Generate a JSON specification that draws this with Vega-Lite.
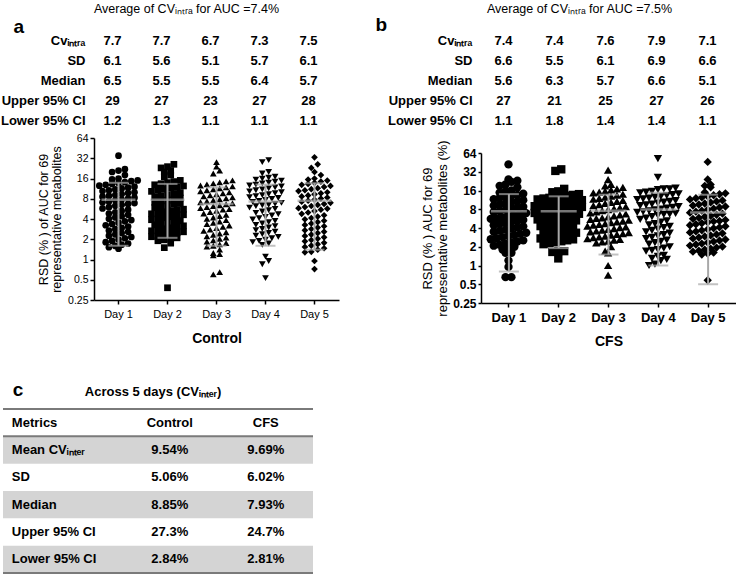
{
"$schema": "https://vega.github.io/schema/vega-lite/v6.json",
"padding": {"left": 0, "top": 2, "right": 0, "bottom": 0},
"config": {
 "view": {"stroke": null},
 "font": "Liberation Sans",
 "axis": {"labelColor": "#000", "titleColor": "#000", "domainColor": "#000", "tickColor": "#000", "grid": false, "labelFont": "Liberation Sans", "titleFont": "Liberation Sans"},
 "title": {"color": "#000", "font": "Liberation Sans"},
 "text": {"color": "#000", "font": "Liberation Sans"}
},
"datasets": {
 "letters": [{"p": "a", "t": "a"}, {"p": "b", "t": "b"}, {"p": "c", "t": "c"}, {"p": "ct", "t": "Across 5 days (CVᵢₙₜₑᵣ)"}],
 "lab": [{"row": "Cv", "t": "Cvᵢₙₜᵣₐ"}, {"row": "SD", "t": "SD"}, {"row": "Median", "t": "Median"}, {"row": "Upper", "t": "Upper 95% CI"}, {"row": "Lower", "t": "Lower 95% CI"}],
 "tab": [
  {"g":"a","row":"Cv","col":"Day 1","t":"7.7"},{"g":"a","row":"Cv","col":"Day 2","t":"7.7"},{"g":"a","row":"Cv","col":"Day 3","t":"6.7"},{"g":"a","row":"Cv","col":"Day 4","t":"7.3"},{"g":"a","row":"Cv","col":"Day 5","t":"7.5"},
  {"g":"a","row":"SD","col":"Day 1","t":"6.1"},{"g":"a","row":"SD","col":"Day 2","t":"5.6"},{"g":"a","row":"SD","col":"Day 3","t":"5.1"},{"g":"a","row":"SD","col":"Day 4","t":"5.7"},{"g":"a","row":"SD","col":"Day 5","t":"6.1"},
  {"g":"a","row":"Median","col":"Day 1","t":"6.5"},{"g":"a","row":"Median","col":"Day 2","t":"5.5"},{"g":"a","row":"Median","col":"Day 3","t":"5.5"},{"g":"a","row":"Median","col":"Day 4","t":"6.4"},{"g":"a","row":"Median","col":"Day 5","t":"5.7"},
  {"g":"a","row":"Upper","col":"Day 1","t":"29"},{"g":"a","row":"Upper","col":"Day 2","t":"27"},{"g":"a","row":"Upper","col":"Day 3","t":"23"},{"g":"a","row":"Upper","col":"Day 4","t":"27"},{"g":"a","row":"Upper","col":"Day 5","t":"28"},
  {"g":"a","row":"Lower","col":"Day 1","t":"1.2"},{"g":"a","row":"Lower","col":"Day 2","t":"1.3"},{"g":"a","row":"Lower","col":"Day 3","t":"1.1"},{"g":"a","row":"Lower","col":"Day 4","t":"1.1"},{"g":"a","row":"Lower","col":"Day 5","t":"1.1"},
  {"g":"b","row":"Cv","col":"Day 1","t":"7.4"},{"g":"b","row":"Cv","col":"Day 2","t":"7.4"},{"g":"b","row":"Cv","col":"Day 3","t":"7.6"},{"g":"b","row":"Cv","col":"Day 4","t":"7.9"},{"g":"b","row":"Cv","col":"Day 5","t":"7.1"},
  {"g":"b","row":"SD","col":"Day 1","t":"6.6"},{"g":"b","row":"SD","col":"Day 2","t":"5.5"},{"g":"b","row":"SD","col":"Day 3","t":"6.1"},{"g":"b","row":"SD","col":"Day 4","t":"6.9"},{"g":"b","row":"SD","col":"Day 5","t":"6.6"},
  {"g":"b","row":"Median","col":"Day 1","t":"5.6"},{"g":"b","row":"Median","col":"Day 2","t":"6.3"},{"g":"b","row":"Median","col":"Day 3","t":"5.7"},{"g":"b","row":"Median","col":"Day 4","t":"6.6"},{"g":"b","row":"Median","col":"Day 5","t":"5.1"},
  {"g":"b","row":"Upper","col":"Day 1","t":"27"},{"g":"b","row":"Upper","col":"Day 2","t":"21"},{"g":"b","row":"Upper","col":"Day 3","t":"25"},{"g":"b","row":"Upper","col":"Day 4","t":"27"},{"g":"b","row":"Upper","col":"Day 5","t":"26"},
  {"g":"b","row":"Lower","col":"Day 1","t":"1.1"},{"g":"b","row":"Lower","col":"Day 2","t":"1.8"},{"g":"b","row":"Lower","col":"Day 3","t":"1.4"},{"g":"b","row":"Lower","col":"Day 4","t":"1.4"},{"g":"b","row":"Lower","col":"Day 5","t":"1.1"}
 ],
 "ctab": [
  {"row":"Metrics","col":"Metrics","t":"Metrics"},{"row":"Metrics","col":"Control","t":"Control"},{"row":"Metrics","col":"CFS","t":"CFS"},
  {"row":"Mean","col":"Metrics","t":"Mean CVᵢₙₜₑᵣ"},{"row":"Mean","col":"Control","t":"9.54%"},{"row":"Mean","col":"CFS","t":"9.69%"},
  {"row":"SD","col":"Metrics","t":"SD"},{"row":"SD","col":"Control","t":"5.06%"},{"row":"SD","col":"CFS","t":"6.02%"},
  {"row":"Median","col":"Metrics","t":"Median"},{"row":"Median","col":"Control","t":"8.85%"},{"row":"Median","col":"CFS","t":"7.93%"},
  {"row":"Upper","col":"Metrics","t":"Upper 95% CI"},{"row":"Upper","col":"Control","t":"27.3%"},{"row":"Upper","col":"CFS","t":"24.7%"},
  {"row":"Lower","col":"Metrics","t":"Lower 95% CI"},{"row":"Lower","col":"Control","t":"2.84%"},{"row":"Lower","col":"CFS","t":"2.81%"}
 ],
 "stats": [
  {"g":"a","d":"Day 1","m":7.7,"lo":1.6,"hi":13.8},{"g":"a","d":"Day 2","m":7.7,"lo":2.1,"hi":13.3},{"g":"a","d":"Day 3","m":6.7,"lo":1.6,"hi":11.8},{"g":"a","d":"Day 4","m":7.3,"lo":1.6,"hi":13.0},{"g":"a","d":"Day 5","m":7.5,"lo":1.4,"hi":13.6},
  {"g":"b","d":"Day 1","m":7.4,"lo":0.8,"hi":14.0},{"g":"b","d":"Day 2","m":7.4,"lo":1.9,"hi":12.9},{"g":"b","d":"Day 3","m":7.6,"lo":1.5,"hi":13.7},{"g":"b","d":"Day 4","m":7.9,"lo":1.0,"hi":14.8},{"g":"b","d":"Day 5","m":7.1,"lo":0.5,"hi":13.7}
 ],
 "pts": [
{"g":"a","d":"Day 1","v":35},{"g":"a","d":"Day 1","v":22},{"g":"a","d":"Day 1","v":21},{"g":"a","d":"Day 1","v":20},{"g":"a","d":"Day 1","v":18},{"g":"a","d":"Day 1","v":16},{"g":"a","d":"Day 1","v":15.5},{"g":"a","d":"Day 1","v":15},{"g":"a","d":"Day 1","v":14.6},{"g":"a","d":"Day 1","v":14.1},
{"g":"a","d":"Day 1","v":13.7},{"g":"a","d":"Day 1","v":13.3},{"g":"a","d":"Day 1","v":12.9},{"g":"a","d":"Day 1","v":12.5},{"g":"a","d":"Day 1","v":12.1},{"g":"a","d":"Day 1","v":11.7},{"g":"a","d":"Day 1","v":11.4},{"g":"a","d":"Day 1","v":11},{"g":"a","d":"Day 1","v":10.7},{"g":"a","d":"Day 1","v":10.4},
{"g":"a","d":"Day 1","v":10},{"g":"a","d":"Day 1","v":9.7},{"g":"a","d":"Day 1","v":9.4},{"g":"a","d":"Day 1","v":9.1},{"g":"a","d":"Day 1","v":8.8},{"g":"a","d":"Day 1","v":8.6},{"g":"a","d":"Day 1","v":8.3},{"g":"a","d":"Day 1","v":8.05},{"g":"a","d":"Day 1","v":7.8},{"g":"a","d":"Day 1","v":7.6},
{"g":"a","d":"Day 1","v":7.3},{"g":"a","d":"Day 1","v":7.1},{"g":"a","d":"Day 1","v":6.9},{"g":"a","d":"Day 1","v":6.7},{"g":"a","d":"Day 1","v":6.5},{"g":"a","d":"Day 1","v":6.3},{"g":"a","d":"Day 1","v":6},{"g":"a","d":"Day 1","v":5.75},{"g":"a","d":"Day 1","v":5.5},{"g":"a","d":"Day 1","v":5.27},
{"g":"a","d":"Day 1","v":5.04},{"g":"a","d":"Day 1","v":4.82},{"g":"a","d":"Day 1","v":4.61},{"g":"a","d":"Day 1","v":4.41},{"g":"a","d":"Day 1","v":4.22},{"g":"a","d":"Day 1","v":4.03},{"g":"a","d":"Day 1","v":3.86},{"g":"a","d":"Day 1","v":3.69},{"g":"a","d":"Day 1","v":3.53},{"g":"a","d":"Day 1","v":3.37},
{"g":"a","d":"Day 1","v":3.23},{"g":"a","d":"Day 1","v":3.09},{"g":"a","d":"Day 1","v":2.95},{"g":"a","d":"Day 1","v":2.82},{"g":"a","d":"Day 1","v":2.7},{"g":"a","d":"Day 1","v":2.58},{"g":"a","d":"Day 1","v":2.47},{"g":"a","d":"Day 1","v":2.36},{"g":"a","d":"Day 1","v":2.26},{"g":"a","d":"Day 1","v":2.16},
{"g":"a","d":"Day 1","v":2.07},{"g":"a","d":"Day 1","v":1.98},{"g":"a","d":"Day 1","v":1.89},{"g":"a","d":"Day 1","v":1.81},{"g":"a","d":"Day 1","v":1.73},{"g":"a","d":"Day 1","v":1.66},{"g":"a","d":"Day 1","v":1.59},{"g":"a","d":"Day 1","v":1.52},{"g":"a","d":"Day 1","v":1.45},
{"g":"a","d":"Day 2","v":26},{"g":"a","d":"Day 2","v":24},{"g":"a","d":"Day 2","v":23},{"g":"a","d":"Day 2","v":21},{"g":"a","d":"Day 2","v":20},{"g":"a","d":"Day 2","v":18},{"g":"a","d":"Day 2","v":17},{"g":"a","d":"Day 2","v":15},{"g":"a","d":"Day 2","v":14.4},{"g":"a","d":"Day 2","v":13.9},
{"g":"a","d":"Day 2","v":13.4},{"g":"a","d":"Day 2","v":12.9},{"g":"a","d":"Day 2","v":12.4},{"g":"a","d":"Day 2","v":12},{"g":"a","d":"Day 2","v":11.5},{"g":"a","d":"Day 2","v":11.1},{"g":"a","d":"Day 2","v":10.7},{"g":"a","d":"Day 2","v":10.3},{"g":"a","d":"Day 2","v":9.9},{"g":"a","d":"Day 2","v":9.6},
{"g":"a","d":"Day 2","v":9.2},{"g":"a","d":"Day 2","v":8.9},{"g":"a","d":"Day 2","v":8.6},{"g":"a","d":"Day 2","v":8.2},{"g":"a","d":"Day 2","v":7.9},{"g":"a","d":"Day 2","v":7.6},{"g":"a","d":"Day 2","v":7.4},{"g":"a","d":"Day 2","v":7.1},{"g":"a","d":"Day 2","v":6.8},{"g":"a","d":"Day 2","v":6.6},
{"g":"a","d":"Day 2","v":6.3},{"g":"a","d":"Day 2","v":6.1},{"g":"a","d":"Day 2","v":5.9},{"g":"a","d":"Day 2","v":5.6},{"g":"a","d":"Day 2","v":5.5},{"g":"a","d":"Day 2","v":5.3},{"g":"a","d":"Day 2","v":5.12},{"g":"a","d":"Day 2","v":4.95},{"g":"a","d":"Day 2","v":4.78},{"g":"a","d":"Day 2","v":4.62},
{"g":"a","d":"Day 2","v":4.47},{"g":"a","d":"Day 2","v":4.32},{"g":"a","d":"Day 2","v":4.17},{"g":"a","d":"Day 2","v":4.03},{"g":"a","d":"Day 2","v":3.9},{"g":"a","d":"Day 2","v":3.77},{"g":"a","d":"Day 2","v":3.64},{"g":"a","d":"Day 2","v":3.52},{"g":"a","d":"Day 2","v":3.4},{"g":"a","d":"Day 2","v":3.28},
{"g":"a","d":"Day 2","v":3.17},{"g":"a","d":"Day 2","v":3.07},{"g":"a","d":"Day 2","v":2.96},{"g":"a","d":"Day 2","v":2.86},{"g":"a","d":"Day 2","v":2.77},{"g":"a","d":"Day 2","v":2.67},{"g":"a","d":"Day 2","v":2.58},{"g":"a","d":"Day 2","v":2.5},{"g":"a","d":"Day 2","v":2.41},{"g":"a","d":"Day 2","v":2.33},
{"g":"a","d":"Day 2","v":2.25},{"g":"a","d":"Day 2","v":2.18},{"g":"a","d":"Day 2","v":2.1},{"g":"a","d":"Day 2","v":2.03},{"g":"a","d":"Day 2","v":1.96},{"g":"a","d":"Day 2","v":1.9},{"g":"a","d":"Day 2","v":1.75},{"g":"a","d":"Day 2","v":1.5},{"g":"a","d":"Day 2","v":0.38},
{"g":"a","d":"Day 3","v":28},{"g":"a","d":"Day 3","v":24},{"g":"a","d":"Day 3","v":21},{"g":"a","d":"Day 3","v":19},{"g":"a","d":"Day 3","v":15},{"g":"a","d":"Day 3","v":14.5},{"g":"a","d":"Day 3","v":14},{"g":"a","d":"Day 3","v":13.5},{"g":"a","d":"Day 3","v":13.1},{"g":"a","d":"Day 3","v":12.6},
{"g":"a","d":"Day 3","v":12.2},{"g":"a","d":"Day 3","v":11.8},{"g":"a","d":"Day 3","v":11.4},{"g":"a","d":"Day 3","v":11},{"g":"a","d":"Day 3","v":10.7},{"g":"a","d":"Day 3","v":10.3},{"g":"a","d":"Day 3","v":9.96},{"g":"a","d":"Day 3","v":9.63},{"g":"a","d":"Day 3","v":9.31},{"g":"a","d":"Day 3","v":9},
{"g":"a","d":"Day 3","v":8.7},{"g":"a","d":"Day 3","v":8.4},{"g":"a","d":"Day 3","v":8.1},{"g":"a","d":"Day 3","v":7.85},{"g":"a","d":"Day 3","v":7.6},{"g":"a","d":"Day 3","v":7.34},{"g":"a","d":"Day 3","v":7.1},{"g":"a","d":"Day 3","v":6.86},{"g":"a","d":"Day 3","v":6.63},{"g":"a","d":"Day 3","v":6.41},
{"g":"a","d":"Day 3","v":6.2},{"g":"a","d":"Day 3","v":6},{"g":"a","d":"Day 3","v":5.8},{"g":"a","d":"Day 3","v":5.6},{"g":"a","d":"Day 3","v":5.5},{"g":"a","d":"Day 3","v":5.3},{"g":"a","d":"Day 3","v":5.06},{"g":"a","d":"Day 3","v":4.83},{"g":"a","d":"Day 3","v":4.62},{"g":"a","d":"Day 3","v":4.41},
{"g":"a","d":"Day 3","v":4.21},{"g":"a","d":"Day 3","v":4.02},{"g":"a","d":"Day 3","v":3.84},{"g":"a","d":"Day 3","v":3.67},{"g":"a","d":"Day 3","v":3.5},{"g":"a","d":"Day 3","v":3.35},{"g":"a","d":"Day 3","v":3.2},{"g":"a","d":"Day 3","v":3.05},{"g":"a","d":"Day 3","v":2.92},{"g":"a","d":"Day 3","v":2.78},
{"g":"a","d":"Day 3","v":2.66},{"g":"a","d":"Day 3","v":2.54},{"g":"a","d":"Day 3","v":2.43},{"g":"a","d":"Day 3","v":2.32},{"g":"a","d":"Day 3","v":2.21},{"g":"a","d":"Day 3","v":2.11},{"g":"a","d":"Day 3","v":2.02},{"g":"a","d":"Day 3","v":1.93},{"g":"a","d":"Day 3","v":1.84},{"g":"a","d":"Day 3","v":1.76},
{"g":"a","d":"Day 3","v":1.68},{"g":"a","d":"Day 3","v":1.6},{"g":"a","d":"Day 3","v":1.55},{"g":"a","d":"Day 3","v":1.4},{"g":"a","d":"Day 3","v":1.25},{"g":"a","d":"Day 3","v":1.2},{"g":"a","d":"Day 3","v":1.15},{"g":"a","d":"Day 3","v":0.65},{"g":"a","d":"Day 3","v":0.6},
{"g":"a","d":"Day 4","v":30},{"g":"a","d":"Day 4","v":28},{"g":"a","d":"Day 4","v":20},{"g":"a","d":"Day 4","v":19},{"g":"a","d":"Day 4","v":17},{"g":"a","d":"Day 4","v":16.4},{"g":"a","d":"Day 4","v":15.9},{"g":"a","d":"Day 4","v":15.4},{"g":"a","d":"Day 4","v":14.9},{"g":"a","d":"Day 4","v":14.4},
{"g":"a","d":"Day 4","v":13.9},{"g":"a","d":"Day 4","v":13.5},{"g":"a","d":"Day 4","v":13},{"g":"a","d":"Day 4","v":12.6},{"g":"a","d":"Day 4","v":12.2},{"g":"a","d":"Day 4","v":11.8},{"g":"a","d":"Day 4","v":11.4},{"g":"a","d":"Day 4","v":11},{"g":"a","d":"Day 4","v":10.7},{"g":"a","d":"Day 4","v":10.3},
{"g":"a","d":"Day 4","v":10},{"g":"a","d":"Day 4","v":9.7},{"g":"a","d":"Day 4","v":9.35},{"g":"a","d":"Day 4","v":9.05},{"g":"a","d":"Day 4","v":8.75},{"g":"a","d":"Day 4","v":8.47},{"g":"a","d":"Day 4","v":8.2},{"g":"a","d":"Day 4","v":7.93},{"g":"a","d":"Day 4","v":7.67},{"g":"a","d":"Day 4","v":7.42},
{"g":"a","d":"Day 4","v":7.18},{"g":"a","d":"Day 4","v":6.95},{"g":"a","d":"Day 4","v":6.72},{"g":"a","d":"Day 4","v":6.5},{"g":"a","d":"Day 4","v":6.4},{"g":"a","d":"Day 4","v":6.2},{"g":"a","d":"Day 4","v":5.92},{"g":"a","d":"Day 4","v":5.66},{"g":"a","d":"Day 4","v":5.41},{"g":"a","d":"Day 4","v":5.17},
{"g":"a","d":"Day 4","v":4.94},{"g":"a","d":"Day 4","v":4.72},{"g":"a","d":"Day 4","v":4.51},{"g":"a","d":"Day 4","v":4.31},{"g":"a","d":"Day 4","v":4.11},{"g":"a","d":"Day 4","v":3.93},{"g":"a","d":"Day 4","v":3.75},{"g":"a","d":"Day 4","v":3.59},{"g":"a","d":"Day 4","v":3.43},{"g":"a","d":"Day 4","v":3.27},
{"g":"a","d":"Day 4","v":3.13},{"g":"a","d":"Day 4","v":2.99},{"g":"a","d":"Day 4","v":2.85},{"g":"a","d":"Day 4","v":2.73},{"g":"a","d":"Day 4","v":2.6},{"g":"a","d":"Day 4","v":2.49},{"g":"a","d":"Day 4","v":2.38},{"g":"a","d":"Day 4","v":2.27},{"g":"a","d":"Day 4","v":2.17},{"g":"a","d":"Day 4","v":2.07},
{"g":"a","d":"Day 4","v":1.98},{"g":"a","d":"Day 4","v":1.89},{"g":"a","d":"Day 4","v":1.81},{"g":"a","d":"Day 4","v":1.73},{"g":"a","d":"Day 4","v":1.65},{"g":"a","d":"Day 4","v":1.1},{"g":"a","d":"Day 4","v":0.95},{"g":"a","d":"Day 4","v":0.85},{"g":"a","d":"Day 4","v":0.53},
{"g":"a","d":"Day 5","v":33},{"g":"a","d":"Day 5","v":26},{"g":"a","d":"Day 5","v":23},{"g":"a","d":"Day 5","v":20},{"g":"a","d":"Day 5","v":18},{"g":"a","d":"Day 5","v":16},{"g":"a","d":"Day 5","v":15.4},{"g":"a","d":"Day 5","v":14.9},{"g":"a","d":"Day 5","v":14.4},{"g":"a","d":"Day 5","v":13.8},
{"g":"a","d":"Day 5","v":13.3},{"g":"a","d":"Day 5","v":12.9},{"g":"a","d":"Day 5","v":12.4},{"g":"a","d":"Day 5","v":12},{"g":"a","d":"Day 5","v":11.5},{"g":"a","d":"Day 5","v":11.1},{"g":"a","d":"Day 5","v":10.7},{"g":"a","d":"Day 5","v":10.4},{"g":"a","d":"Day 5","v":10},{"g":"a","d":"Day 5","v":9.64},
{"g":"a","d":"Day 5","v":9.3},{"g":"a","d":"Day 5","v":8.97},{"g":"a","d":"Day 5","v":8.65},{"g":"a","d":"Day 5","v":8.34},{"g":"a","d":"Day 5","v":8.04},{"g":"a","d":"Day 5","v":7.76},{"g":"a","d":"Day 5","v":7.48},{"g":"a","d":"Day 5","v":7.22},{"g":"a","d":"Day 5","v":6.96},{"g":"a","d":"Day 5","v":6.71},
{"g":"a","d":"Day 5","v":6.47},{"g":"a","d":"Day 5","v":6.24},{"g":"a","d":"Day 5","v":6.02},{"g":"a","d":"Day 5","v":5.8},{"g":"a","d":"Day 5","v":5.7},{"g":"a","d":"Day 5","v":5.5},{"g":"a","d":"Day 5","v":5.25},{"g":"a","d":"Day 5","v":5},{"g":"a","d":"Day 5","v":4.77},{"g":"a","d":"Day 5","v":4.55},
{"g":"a","d":"Day 5","v":4.34},{"g":"a","d":"Day 5","v":4.14},{"g":"a","d":"Day 5","v":3.95},{"g":"a","d":"Day 5","v":3.77},{"g":"a","d":"Day 5","v":3.6},{"g":"a","d":"Day 5","v":3.43},{"g":"a","d":"Day 5","v":3.27},{"g":"a","d":"Day 5","v":3.12},{"g":"a","d":"Day 5","v":2.98},{"g":"a","d":"Day 5","v":2.84},
{"g":"a","d":"Day 5","v":2.71},{"g":"a","d":"Day 5","v":2.59},{"g":"a","d":"Day 5","v":2.47},{"g":"a","d":"Day 5","v":2.35},{"g":"a","d":"Day 5","v":2.24},{"g":"a","d":"Day 5","v":2.14},{"g":"a","d":"Day 5","v":2.04},{"g":"a","d":"Day 5","v":1.95},{"g":"a","d":"Day 5","v":1.86},{"g":"a","d":"Day 5","v":1.77},
{"g":"a","d":"Day 5","v":1.69},{"g":"a","d":"Day 5","v":1.61},{"g":"a","d":"Day 5","v":1.54},{"g":"a","d":"Day 5","v":1.47},{"g":"a","d":"Day 5","v":1.4},{"g":"a","d":"Day 5","v":1.3},{"g":"a","d":"Day 5","v":1.28},{"g":"a","d":"Day 5","v":0.95},{"g":"a","d":"Day 5","v":0.72},
{"g":"b","d":"Day 1","v":42},{"g":"b","d":"Day 1","v":24},{"g":"b","d":"Day 1","v":23},{"g":"b","d":"Day 1","v":22},{"g":"b","d":"Day 1","v":20},{"g":"b","d":"Day 1","v":19},{"g":"b","d":"Day 1","v":18},{"g":"b","d":"Day 1","v":16},{"g":"b","d":"Day 1","v":15.4},{"g":"b","d":"Day 1","v":14.8},
{"g":"b","d":"Day 1","v":14.2},{"g":"b","d":"Day 1","v":13.6},{"g":"b","d":"Day 1","v":13.1},{"g":"b","d":"Day 1","v":12.6},{"g":"b","d":"Day 1","v":12.1},{"g":"b","d":"Day 1","v":11.6},{"g":"b","d":"Day 1","v":11.2},{"g":"b","d":"Day 1","v":10.7},{"g":"b","d":"Day 1","v":10.3},{"g":"b","d":"Day 1","v":9.9},
{"g":"b","d":"Day 1","v":9.53},{"g":"b","d":"Day 1","v":9.16},{"g":"b","d":"Day 1","v":8.8},{"g":"b","d":"Day 1","v":8.46},{"g":"b","d":"Day 1","v":8.13},{"g":"b","d":"Day 1","v":7.81},{"g":"b","d":"Day 1","v":7.51},{"g":"b","d":"Day 1","v":7.22},{"g":"b","d":"Day 1","v":6.94},{"g":"b","d":"Day 1","v":6.67},
{"g":"b","d":"Day 1","v":6.41},{"g":"b","d":"Day 1","v":6.16},{"g":"b","d":"Day 1","v":5.93},{"g":"b","d":"Day 1","v":5.7},{"g":"b","d":"Day 1","v":5.6},{"g":"b","d":"Day 1","v":5.4},{"g":"b","d":"Day 1","v":5.19},{"g":"b","d":"Day 1","v":4.99},{"g":"b","d":"Day 1","v":4.79},{"g":"b","d":"Day 1","v":4.61},
{"g":"b","d":"Day 1","v":4.43},{"g":"b","d":"Day 1","v":4.25},{"g":"b","d":"Day 1","v":4.09},{"g":"b","d":"Day 1","v":3.93},{"g":"b","d":"Day 1","v":3.77},{"g":"b","d":"Day 1","v":3.63},{"g":"b","d":"Day 1","v":3.48},{"g":"b","d":"Day 1","v":3.35},{"g":"b","d":"Day 1","v":3.22},{"g":"b","d":"Day 1","v":3.09},
{"g":"b","d":"Day 1","v":2.97},{"g":"b","d":"Day 1","v":2.86},{"g":"b","d":"Day 1","v":2.74},{"g":"b","d":"Day 1","v":2.64},{"g":"b","d":"Day 1","v":2.53},{"g":"b","d":"Day 1","v":2.43},{"g":"b","d":"Day 1","v":2.34},{"g":"b","d":"Day 1","v":2.25},{"g":"b","d":"Day 1","v":2.16},{"g":"b","d":"Day 1","v":2.08},
{"g":"b","d":"Day 1","v":2},{"g":"b","d":"Day 1","v":1.8},{"g":"b","d":"Day 1","v":1.8},{"g":"b","d":"Day 1","v":1.6},{"g":"b","d":"Day 1","v":1.6},{"g":"b","d":"Day 1","v":1.2},{"g":"b","d":"Day 1","v":0.95},{"g":"b","d":"Day 1","v":0.65},{"g":"b","d":"Day 1","v":0.65},
{"g":"b","d":"Day 2","v":35},{"g":"b","d":"Day 2","v":33},{"g":"b","d":"Day 2","v":17},{"g":"b","d":"Day 2","v":15.5},{"g":"b","d":"Day 2","v":15},{"g":"b","d":"Day 2","v":14},{"g":"b","d":"Day 2","v":13.6},{"g":"b","d":"Day 2","v":13.2},{"g":"b","d":"Day 2","v":12.9},{"g":"b","d":"Day 2","v":12.5},
{"g":"b","d":"Day 2","v":12.2},{"g":"b","d":"Day 2","v":11.9},{"g":"b","d":"Day 2","v":11.5},{"g":"b","d":"Day 2","v":11.2},{"g":"b","d":"Day 2","v":10.9},{"g":"b","d":"Day 2","v":10.6},{"g":"b","d":"Day 2","v":10.3},{"g":"b","d":"Day 2","v":10},{"g":"b","d":"Day 2","v":9.75},{"g":"b","d":"Day 2","v":9.48},
{"g":"b","d":"Day 2","v":9.22},{"g":"b","d":"Day 2","v":8.96},{"g":"b","d":"Day 2","v":8.72},{"g":"b","d":"Day 2","v":8.48},{"g":"b","d":"Day 2","v":8.24},{"g":"b","d":"Day 2","v":8.01},{"g":"b","d":"Day 2","v":7.79},{"g":"b","d":"Day 2","v":7.58},{"g":"b","d":"Day 2","v":7.37},{"g":"b","d":"Day 2","v":7.16},
{"g":"b","d":"Day 2","v":6.97},{"g":"b","d":"Day 2","v":6.77},{"g":"b","d":"Day 2","v":6.59},{"g":"b","d":"Day 2","v":6.4},{"g":"b","d":"Day 2","v":6.3},{"g":"b","d":"Day 2","v":6.1},{"g":"b","d":"Day 2","v":5.89},{"g":"b","d":"Day 2","v":5.69},{"g":"b","d":"Day 2","v":5.49},{"g":"b","d":"Day 2","v":5.3},
{"g":"b","d":"Day 2","v":5.12},{"g":"b","d":"Day 2","v":4.94},{"g":"b","d":"Day 2","v":4.77},{"g":"b","d":"Day 2","v":4.61},{"g":"b","d":"Day 2","v":4.45},{"g":"b","d":"Day 2","v":4.29},{"g":"b","d":"Day 2","v":4.15},{"g":"b","d":"Day 2","v":4},{"g":"b","d":"Day 2","v":3.86},{"g":"b","d":"Day 2","v":3.73},
{"g":"b","d":"Day 2","v":3.6},{"g":"b","d":"Day 2","v":3.48},{"g":"b","d":"Day 2","v":3.36},{"g":"b","d":"Day 2","v":3.24},{"g":"b","d":"Day 2","v":3.13},{"g":"b","d":"Day 2","v":3.02},{"g":"b","d":"Day 2","v":2.92},{"g":"b","d":"Day 2","v":2.82},{"g":"b","d":"Day 2","v":2.72},{"g":"b","d":"Day 2","v":2.63},
{"g":"b","d":"Day 2","v":2.54},{"g":"b","d":"Day 2","v":2.45},{"g":"b","d":"Day 2","v":2.36},{"g":"b","d":"Day 2","v":2.28},{"g":"b","d":"Day 2","v":2.2},{"g":"b","d":"Day 2","v":1.7},{"g":"b","d":"Day 2","v":1.7},{"g":"b","d":"Day 2","v":1.65},{"g":"b","d":"Day 2","v":1.3},
{"g":"b","d":"Day 3","v":34},{"g":"b","d":"Day 3","v":24},{"g":"b","d":"Day 3","v":20},{"g":"b","d":"Day 3","v":19},{"g":"b","d":"Day 3","v":18},{"g":"b","d":"Day 3","v":17},{"g":"b","d":"Day 3","v":16.4},{"g":"b","d":"Day 3","v":15.7},{"g":"b","d":"Day 3","v":15.1},{"g":"b","d":"Day 3","v":14.6},
{"g":"b","d":"Day 3","v":14},{"g":"b","d":"Day 3","v":13.5},{"g":"b","d":"Day 3","v":13},{"g":"b","d":"Day 3","v":12.5},{"g":"b","d":"Day 3","v":12},{"g":"b","d":"Day 3","v":11.6},{"g":"b","d":"Day 3","v":11.1},{"g":"b","d":"Day 3","v":10.7},{"g":"b","d":"Day 3","v":10.3},{"g":"b","d":"Day 3","v":9.9},
{"g":"b","d":"Day 3","v":9.53},{"g":"b","d":"Day 3","v":9.17},{"g":"b","d":"Day 3","v":8.83},{"g":"b","d":"Day 3","v":8.5},{"g":"b","d":"Day 3","v":8.18},{"g":"b","d":"Day 3","v":7.87},{"g":"b","d":"Day 3","v":7.57},{"g":"b","d":"Day 3","v":7.29},{"g":"b","d":"Day 3","v":7.01},{"g":"b","d":"Day 3","v":6.75},
{"g":"b","d":"Day 3","v":6.5},{"g":"b","d":"Day 3","v":6.25},{"g":"b","d":"Day 3","v":6.02},{"g":"b","d":"Day 3","v":5.8},{"g":"b","d":"Day 3","v":5.7},{"g":"b","d":"Day 3","v":5.5},{"g":"b","d":"Day 3","v":5.33},{"g":"b","d":"Day 3","v":5.17},{"g":"b","d":"Day 3","v":5.02},{"g":"b","d":"Day 3","v":4.86},
{"g":"b","d":"Day 3","v":4.72},{"g":"b","d":"Day 3","v":4.57},{"g":"b","d":"Day 3","v":4.44},{"g":"b","d":"Day 3","v":4.3},{"g":"b","d":"Day 3","v":4.17},{"g":"b","d":"Day 3","v":4.05},{"g":"b","d":"Day 3","v":3.92},{"g":"b","d":"Day 3","v":3.8},{"g":"b","d":"Day 3","v":3.69},{"g":"b","d":"Day 3","v":3.58},
{"g":"b","d":"Day 3","v":3.47},{"g":"b","d":"Day 3","v":3.36},{"g":"b","d":"Day 3","v":3.26},{"g":"b","d":"Day 3","v":3.16},{"g":"b","d":"Day 3","v":3.07},{"g":"b","d":"Day 3","v":2.97},{"g":"b","d":"Day 3","v":2.88},{"g":"b","d":"Day 3","v":2.8},{"g":"b","d":"Day 3","v":2.71},{"g":"b","d":"Day 3","v":2.63},
{"g":"b","d":"Day 3","v":2.55},{"g":"b","d":"Day 3","v":2.47},{"g":"b","d":"Day 3","v":2.4},{"g":"b","d":"Day 3","v":2.3},{"g":"b","d":"Day 3","v":2},{"g":"b","d":"Day 3","v":1.7},{"g":"b","d":"Day 3","v":1.6},{"g":"b","d":"Day 3","v":1},{"g":"b","d":"Day 3","v":0.7},
{"g":"b","d":"Day 4","v":52},{"g":"b","d":"Day 4","v":26},{"g":"b","d":"Day 4","v":17.5},{"g":"b","d":"Day 4","v":17},{"g":"b","d":"Day 4","v":17},{"g":"b","d":"Day 4","v":16.5},{"g":"b","d":"Day 4","v":15.5},{"g":"b","d":"Day 4","v":15},{"g":"b","d":"Day 4","v":14.6},{"g":"b","d":"Day 4","v":14.1},
{"g":"b","d":"Day 4","v":13.7},{"g":"b","d":"Day 4","v":13.3},{"g":"b","d":"Day 4","v":12.9},{"g":"b","d":"Day 4","v":12.5},{"g":"b","d":"Day 4","v":12.1},{"g":"b","d":"Day 4","v":11.7},{"g":"b","d":"Day 4","v":11.4},{"g":"b","d":"Day 4","v":11},{"g":"b","d":"Day 4","v":10.7},{"g":"b","d":"Day 4","v":10.4},
{"g":"b","d":"Day 4","v":10},{"g":"b","d":"Day 4","v":9.71},{"g":"b","d":"Day 4","v":9.41},{"g":"b","d":"Day 4","v":9.12},{"g":"b","d":"Day 4","v":8.84},{"g":"b","d":"Day 4","v":8.57},{"g":"b","d":"Day 4","v":8.31},{"g":"b","d":"Day 4","v":8.05},{"g":"b","d":"Day 4","v":7.8},{"g":"b","d":"Day 4","v":7.56},
{"g":"b","d":"Day 4","v":7.33},{"g":"b","d":"Day 4","v":7.11},{"g":"b","d":"Day 4","v":6.89},{"g":"b","d":"Day 4","v":6.7},{"g":"b","d":"Day 4","v":6.6},{"g":"b","d":"Day 4","v":6.4},{"g":"b","d":"Day 4","v":6.08},{"g":"b","d":"Day 4","v":5.78},{"g":"b","d":"Day 4","v":5.49},{"g":"b","d":"Day 4","v":5.22},
{"g":"b","d":"Day 4","v":4.96},{"g":"b","d":"Day 4","v":4.72},{"g":"b","d":"Day 4","v":4.48},{"g":"b","d":"Day 4","v":4.26},{"g":"b","d":"Day 4","v":4.05},{"g":"b","d":"Day 4","v":3.85},{"g":"b","d":"Day 4","v":3.66},{"g":"b","d":"Day 4","v":3.48},{"g":"b","d":"Day 4","v":3.31},{"g":"b","d":"Day 4","v":3.14},
{"g":"b","d":"Day 4","v":2.99},{"g":"b","d":"Day 4","v":2.84},{"g":"b","d":"Day 4","v":2.7},{"g":"b","d":"Day 4","v":2.56},{"g":"b","d":"Day 4","v":2.44},{"g":"b","d":"Day 4","v":2.32},{"g":"b","d":"Day 4","v":2.2},{"g":"b","d":"Day 4","v":2},{"g":"b","d":"Day 4","v":1.9},{"g":"b","d":"Day 4","v":1.8},
{"g":"b","d":"Day 4","v":1.75},{"g":"b","d":"Day 4","v":1.7},{"g":"b","d":"Day 4","v":1.45},{"g":"b","d":"Day 4","v":1.4},{"g":"b","d":"Day 4","v":1.3},{"g":"b","d":"Day 4","v":1.25},{"g":"b","d":"Day 4","v":1.2},{"g":"b","d":"Day 4","v":1.05},{"g":"b","d":"Day 4","v":1},
{"g":"b","d":"Day 5","v":46},{"g":"b","d":"Day 5","v":24},{"g":"b","d":"Day 5","v":20},{"g":"b","d":"Day 5","v":19},{"g":"b","d":"Day 5","v":18},{"g":"b","d":"Day 5","v":15},{"g":"b","d":"Day 5","v":14.4},{"g":"b","d":"Day 5","v":13.9},{"g":"b","d":"Day 5","v":13.4},{"g":"b","d":"Day 5","v":12.9},
{"g":"b","d":"Day 5","v":12.4},{"g":"b","d":"Day 5","v":12},{"g":"b","d":"Day 5","v":11.5},{"g":"b","d":"Day 5","v":11.1},{"g":"b","d":"Day 5","v":10.7},{"g":"b","d":"Day 5","v":10.3},{"g":"b","d":"Day 5","v":9.91},{"g":"b","d":"Day 5","v":9.54},{"g":"b","d":"Day 5","v":9.19},{"g":"b","d":"Day 5","v":8.85},
{"g":"b","d":"Day 5","v":8.52},{"g":"b","d":"Day 5","v":8.2},{"g":"b","d":"Day 5","v":7.9},{"g":"b","d":"Day 5","v":7.6},{"g":"b","d":"Day 5","v":7.32},{"g":"b","d":"Day 5","v":7.05},{"g":"b","d":"Day 5","v":6.79},{"g":"b","d":"Day 5","v":6.53},{"g":"b","d":"Day 5","v":6.29},{"g":"b","d":"Day 5","v":6.06},
{"g":"b","d":"Day 5","v":5.83},{"g":"b","d":"Day 5","v":5.61},{"g":"b","d":"Day 5","v":5.4},{"g":"b","d":"Day 5","v":5.2},{"g":"b","d":"Day 5","v":5.1},{"g":"b","d":"Day 5","v":4.95},{"g":"b","d":"Day 5","v":4.77},{"g":"b","d":"Day 5","v":4.59},{"g":"b","d":"Day 5","v":4.42},{"g":"b","d":"Day 5","v":4.26},
{"g":"b","d":"Day 5","v":4.1},{"g":"b","d":"Day 5","v":3.95},{"g":"b","d":"Day 5","v":3.81},{"g":"b","d":"Day 5","v":3.67},{"g":"b","d":"Day 5","v":3.53},{"g":"b","d":"Day 5","v":3.4},{"g":"b","d":"Day 5","v":3.28},{"g":"b","d":"Day 5","v":3.16},{"g":"b","d":"Day 5","v":3.04},{"g":"b","d":"Day 5","v":2.93},
{"g":"b","d":"Day 5","v":2.82},{"g":"b","d":"Day 5","v":2.72},{"g":"b","d":"Day 5","v":2.62},{"g":"b","d":"Day 5","v":2.52},{"g":"b","d":"Day 5","v":2.43},{"g":"b","d":"Day 5","v":2.34},{"g":"b","d":"Day 5","v":2.25},{"g":"b","d":"Day 5","v":2.17},{"g":"b","d":"Day 5","v":2.09},{"g":"b","d":"Day 5","v":2.01},
{"g":"b","d":"Day 5","v":1.94},{"g":"b","d":"Day 5","v":1.87},{"g":"b","d":"Day 5","v":1.8},{"g":"b","d":"Day 5","v":1.73},{"g":"b","d":"Day 5","v":1.67},{"g":"b","d":"Day 5","v":1.61},{"g":"b","d":"Day 5","v":1.55},{"g":"b","d":"Day 5","v":1.5},{"g":"b","d":"Day 5","v":0.58}
 ]
},
"bounds": "full",
"spacing": 32,
"vconcat": [
 {
  "spacing": 36,
  "hconcat": [
   {
    "spacing": -7,
    "hconcat": [
     {"width": 1, "height": 1, "data": {"values": [{"k": 0}]}, "mark": {"type": "point", "opacity": 0}, "encoding": {}},
     {
      "bounds": "flush",
      "spacing": 7,
      "vconcat": [
       {
        "width": 245, "height": 120,
        "title": {"text": "Average of CVᵢₙₜᵣₐ for AUC =7.4%", "fontSize": 12.5, "fontWeight": "normal", "dx": -30, "offset": -4},
        "layer": [
         {"data": {"name": "tab"}, "transform": [{"filter": "datum.g == 'a'"}],
          "mark": {"type": "text", "fontSize": 13, "fontWeight": "bold", "dx": -6},
          "encoding": {
           "x": {"field": "col", "type": "nominal", "scale": {"domain": ["Day 1","Day 2","Day 3","Day 4","Day 5"], "paddingInner": 0, "paddingOuter": 0}, "axis": null},
           "y": {"field": "row", "type": "nominal", "scale": {"domain": ["L","Cv","SD","Median","Upper","Lower"], "paddingInner": 0, "paddingOuter": 0}, "axis": null},
           "text": {"field": "t"}}},
         {"data": {"name": "lab"},
          "mark": {"type": "text", "fontSize": 13, "fontWeight": "bold", "align": "right", "dx": -33},
          "encoding": {"x": {"datum": "Day 1", "type": "nominal"}, "y": {"field": "row", "type": "nominal"}, "text": {"field": "t"}}},
         {"data": {"name": "letters"}, "transform": [{"filter": "datum.p == 'a'"}],
          "mark": {"type": "text", "fontSize": 19, "fontWeight": "bold", "align": "left", "dx": -105, "dy": 6},
          "encoding": {"x": {"datum": "Day 1", "type": "nominal"}, "y": {"datum": "L", "type": "nominal"}, "text": {"field": "t"}}}
        ]
       },
       {
        "width": 245, "height": 162,
        "layer": [
         {"data": {"name": "pts"},
          "transform": [
           {"filter": "datum.g == 'a'"},
           {"calculate": "log(datum.v)/LN2", "as": "lv"},
           {"bin": {"step": 0.28, "anchor": 0}, "field": "lv", "as": "lb"},
           {"window": [{"op": "row_number", "as": "r"}, {"op": "count", "as": "n"}], "groupby": ["d", "lb"], "sort": [{"field": "v"}], "frame": [null, null]},
           {"calculate": "(datum.r - 1 - (datum.n - 1)/2) * 6.5", "as": "off"}
          ],
          "mark": {"type": "point", "filled": true, "opacity": 1, "color": "#000", "size": 45},
          "encoding": {
           "x": {"field": "d", "type": "nominal", "scale": {"paddingInner": 0, "paddingOuter": 0},
                 "axis": {"title": "Control", "titleFontSize": 14, "titleFontWeight": "bold", "titlePadding": 12, "labelAngle": 0, "labelFontSize": 11, "labelPadding": 4, "tickSize": 4, "domainWidth": 1.5, "tickWidth": 1.5}},
           "xOffset": {"field": "off", "type": "quantitative", "scale": {"domain": [-24.5, 24.5], "range": [0, 49]}},
           "y": {"field": "v", "type": "quantitative", "scale": {"type": "log", "base": 2, "domain": [0.25, 64], "nice": false},
                 "axis": {"values": [0.25, 0.5, 1, 2, 4, 8, 16, 32, 64], "format": "~g", "labelFontSize": 10.5, "tickSize": 4, "domainWidth": 1.5, "tickWidth": 1.5, "title": ["RSD (% ) of AUC for 69", "representative metabolites"], "titleFontSize": 12.5, "titleFontWeight": "normal", "titlePadding": 4, "titleLineHeight": 13}},
           "shape": {"field": "d", "type": "nominal", "scale": {"domain": ["Day 1","Day 2","Day 3","Day 4","Day 5"], "range": ["circle","square","triangle-up","triangle-down","diamond"]}, "legend": null}
          }},
         {"data": {"name": "stats"}, "transform": [{"filter": "datum.g == 'a'"}],
          "mark": {"type": "rule", "color": "#a8a8a8", "strokeWidth": 2},
          "encoding": {"x": {"field": "d", "type": "nominal"}, "y": {"field": "lo", "type": "quantitative"}, "y2": {"field": "hi"}}},
         {"data": {"name": "stats"}, "transform": [{"filter": "datum.g == 'a'"}],
          "mark": {"type": "tick", "color": "#a8a8a8", "thickness": 2, "size": 20},
          "encoding": {"x": {"field": "d", "type": "nominal"}, "y": {"field": "lo", "type": "quantitative"}}},
         {"data": {"name": "stats"}, "transform": [{"filter": "datum.g == 'a'"}],
          "mark": {"type": "tick", "color": "#a8a8a8", "thickness": 2, "size": 20},
          "encoding": {"x": {"field": "d", "type": "nominal"}, "y": {"field": "hi", "type": "quantitative"}}},
         {"data": {"name": "stats"}, "transform": [{"filter": "datum.g == 'a'"}],
          "mark": {"type": "tick", "color": "#a8a8a8", "thickness": 2.5, "size": 34},
          "encoding": {"x": {"field": "d", "type": "nominal"}, "y": {"field": "m", "type": "quantitative"}}}
        ]
       }
      ]
     }
    ]
   },
   {
    "bounds": "flush",
    "spacing": 22,
    "vconcat": [
     {
      "width": 255, "height": 120,
      "title": {"text": "Average of CVᵢₙₜᵣₐ for AUC =7.5%", "fontSize": 12.5, "fontWeight": "normal", "dx": -29, "offset": -4},
      "layer": [
       {"data": {"name": "tab"}, "transform": [{"filter": "datum.g == 'b'"}],
        "mark": {"type": "text", "fontSize": 13, "fontWeight": "bold", "dx": -3},
        "encoding": {
         "x": {"field": "col", "type": "nominal", "scale": {"domain": ["Day 1","Day 2","Day 3","Day 4","Day 5"], "paddingInner": 0, "paddingOuter": 0.06}, "axis": null},
         "y": {"field": "row", "type": "nominal", "scale": {"domain": ["L","Cv","SD","Median","Upper","Lower"], "paddingInner": 0, "paddingOuter": 0}, "axis": null},
         "text": {"field": "t"}}},
       {"data": {"name": "lab"},
        "mark": {"type": "text", "fontSize": 13, "fontWeight": "bold", "align": "right", "dx": -34},
        "encoding": {"x": {"datum": "Day 1", "type": "nominal"}, "y": {"field": "row", "type": "nominal"}, "text": {"field": "t"}}},
       {"data": {"name": "letters"}, "transform": [{"filter": "datum.p == 'b'"}],
        "mark": {"type": "text", "fontSize": 19, "fontWeight": "bold", "align": "left", "dx": -131, "dy": 4},
        "encoding": {"x": {"datum": "Day 1", "type": "nominal"}, "y": {"datum": "L", "type": "nominal"}, "text": {"field": "t"}}}
      ]
     },
     {
      "width": 255, "height": 150,
      "layer": [
       {"data": {"name": "pts"},
        "transform": [
         {"filter": "datum.g == 'b'"},
         {"calculate": "log(datum.v)/LN2", "as": "lv"},
         {"bin": {"step": 0.35, "anchor": 0}, "field": "lv", "as": "lb"},
         {"window": [{"op": "row_number", "as": "r"}, {"op": "count", "as": "n"}], "groupby": ["d", "lb"], "sort": [{"field": "v"}], "frame": [null, null]},
         {"calculate": "(datum.r - 1 - (datum.n - 1)/2) * 6", "as": "off"}
        ],
        "mark": {"type": "point", "filled": true, "opacity": 1, "color": "#000", "size": 70},
        "encoding": {
         "x": {"field": "d", "type": "nominal", "scale": {"paddingInner": 0, "paddingOuter": 0.06},
               "axis": {"title": "CFS", "titleFontSize": 14, "titleFontWeight": "bold", "titlePadding": 10, "labelAngle": 0, "labelFontSize": 13, "labelFontWeight": "bold", "labelPadding": 4, "tickSize": 4, "domainWidth": 1.5, "tickWidth": 1.5}},
         "xOffset": {"field": "off", "type": "quantitative", "scale": {"domain": [-24.9, 24.9], "range": [0, 49.8]}},
         "y": {"field": "v", "type": "quantitative", "scale": {"type": "log", "base": 2, "domain": [0.25, 64], "nice": false},
               "axis": {"values": [0.25, 0.5, 1, 2, 4, 8, 16, 32, 64], "format": "~g", "labelFontSize": 12, "labelFontWeight": "bold", "tickSize": 3, "domainWidth": 1.5, "tickWidth": 1.5, "title": ["RSD (% ) AUC for 69", "representative metabolites (%)"], "titleFontSize": 13, "titleFontWeight": "normal", "titlePadding": 3, "titleLineHeight": 15}},
         "shape": {"field": "d", "type": "nominal", "scale": {"domain": ["Day 1","Day 2","Day 3","Day 4","Day 5"], "range": ["circle","square","triangle-up","triangle-down","diamond"]}, "legend": null}
        }},
       {"data": {"name": "stats"}, "transform": [{"filter": "datum.g == 'b'"}],
        "mark": {"type": "rule", "color": "#a8a8a8", "strokeWidth": 2},
        "encoding": {"x": {"field": "d", "type": "nominal"}, "y": {"field": "lo", "type": "quantitative"}, "y2": {"field": "hi"}}},
       {"data": {"name": "stats"}, "transform": [{"filter": "datum.g == 'b'"}],
        "mark": {"type": "tick", "color": "#a8a8a8", "thickness": 2, "size": 20},
        "encoding": {"x": {"field": "d", "type": "nominal"}, "y": {"field": "lo", "type": "quantitative"}}},
       {"data": {"name": "stats"}, "transform": [{"filter": "datum.g == 'b'"}],
        "mark": {"type": "tick", "color": "#a8a8a8", "thickness": 2, "size": 20},
        "encoding": {"x": {"field": "d", "type": "nominal"}, "y": {"field": "hi", "type": "quantitative"}}},
       {"data": {"name": "stats"}, "transform": [{"filter": "datum.g == 'b'"}],
        "mark": {"type": "tick", "color": "#a8a8a8", "thickness": 2.5, "size": 36},
        "encoding": {"x": {"field": "d", "type": "nominal"}, "y": {"field": "m", "type": "quantitative"}}}
      ]
     }
    ]
   }
  ]
 },
 {
  "width": 310, "height": 164,
  "layer": [
   {"data": {"name": "ctab"}, "transform": [{"filter": "datum.col == 'Metrics' && indexof(['Mean','Median','Lower'], datum.row) >= 0"}],
    "mark": {"type": "rect", "color": "#d4d4d4"},
    "encoding": {"y": {"field": "row", "type": "nominal", "scale": {"domain": ["Metrics","Mean","SD","Median","Upper","Lower"], "paddingInner": 0, "paddingOuter": 0}, "axis": null},
                 "x": {"value": 0}, "x2": {"value": "width"}}},
   {"data": {"name": "ctab"}, "transform": [{"filter": "datum.col == 'Metrics' && datum.row == 'Metrics'"}],
    "mark": {"type": "rule", "color": "#7a7a7a", "strokeWidth": 2},
    "encoding": {"y": {"field": "row", "type": "nominal", "bandPosition": 0}}},
   {"data": {"name": "ctab"}, "transform": [{"filter": "datum.col == 'Metrics' && datum.row == 'Metrics'"}],
    "mark": {"type": "rule", "color": "#7a7a7a", "strokeWidth": 2},
    "encoding": {"y": {"field": "row", "type": "nominal", "bandPosition": 1}}},
   {"data": {"name": "ctab"}, "transform": [{"filter": "datum.col == 'Metrics' && datum.row == 'Lower'"}],
    "mark": {"type": "rule", "color": "#7a7a7a", "strokeWidth": 2},
    "encoding": {"y": {"field": "row", "type": "nominal", "bandPosition": 1}}},
   {"data": {"name": "ctab"}, "transform": [{"filter": "datum.col == 'Metrics'"}],
    "mark": {"type": "text", "align": "left", "fontSize": 13, "fontWeight": "bold", "dx": -62},
    "encoding": {"x": {"field": "col", "type": "nominal", "scale": {"type": "point", "domain": ["Metrics","Control","CFS"], "padding": 0.615, "align": 0.6}, "axis": null},
                 "y": {"field": "row", "type": "nominal"}, "text": {"field": "t"}}},
   {"data": {"name": "ctab"}, "transform": [{"filter": "datum.col != 'Metrics'"}],
    "mark": {"type": "text", "align": "center", "fontSize": 13, "fontWeight": "bold"},
    "encoding": {"x": {"field": "col", "type": "nominal"}, "y": {"field": "row", "type": "nominal"}, "text": {"field": "t"}}},
   {"data": {"name": "letters"}, "transform": [{"filter": "datum.p == 'c'"}],
    "mark": {"type": "text", "align": "left", "fontSize": 19, "fontWeight": "bold", "dx": -61, "dy": -33},
    "encoding": {"x": {"datum": "Metrics", "type": "nominal"}, "y": {"datum": "Metrics", "type": "nominal"}, "text": {"field": "t"}}},
   {"data": {"name": "letters"}, "transform": [{"filter": "datum.p == 'ct'"}],
    "mark": {"type": "text", "align": "left", "fontSize": 13, "fontWeight": "bold", "dx": 11, "dy": -31},
    "encoding": {"x": {"datum": "Metrics", "type": "nominal"}, "y": {"datum": "Metrics", "type": "nominal"}, "text": {"field": "t"}}}
  ]
 }
]
}
